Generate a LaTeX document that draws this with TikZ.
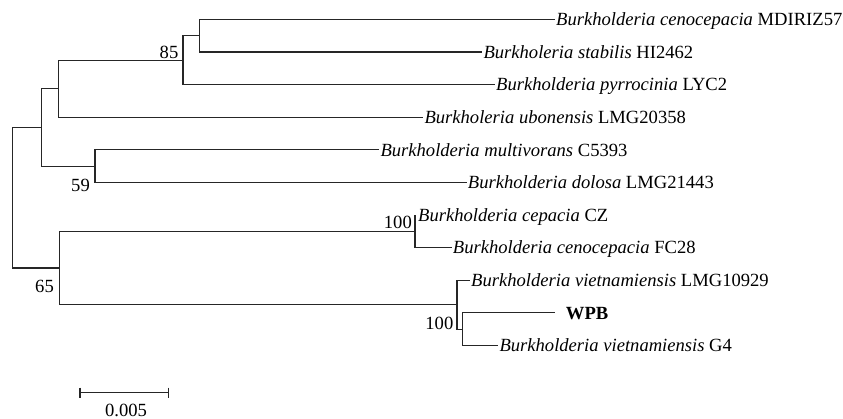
\documentclass[tikz,border=0pt]{standalone}
\usepackage{fontspec}
\setmainfont{Liberation Serif}
\begin{document}
\begin{tikzpicture}[x=1pt,y=-1pt,
  br/.style={line width=1.2pt, draw=black!85},
  leaf/.style={anchor=base west, inner sep=0pt, yshift=-6.3pt, font=\fontsize{18.6}{22}\selectfont},
  bs/.style={anchor=base east, inner sep=0pt, font=\fontsize{18.6}{22}\selectfont}]
\useasboundingbox (0,0) rectangle (843,419);
% leaf tips
\coordinate (t1) at (555,19.5);
\coordinate (t2) at (482.3,52.1);
\coordinate (t3) at (495,84.7);
\coordinate (t4) at (423.3,117.3);
\coordinate (t5) at (379.3,149.9);
\coordinate (t6) at (466.7,182.5);
\coordinate (t7) at (415,215.1);
\coordinate (t8) at (451.7,247.7);
\coordinate (t9) at (470,280.3);
\coordinate (t10) at (555,312.9);
\coordinate (t11) at (498.3,345.5);
% internal nodes
\coordinate (n1) at (199.7,35.8);
\coordinate (n85) at (183,60.25);
\coordinate (n2) at (58.5,88.8);
\coordinate (n59) at (95,166.2);
\coordinate (n3) at (41.7,127.5);
\coordinate (nCZ) at (415,231.4);
\coordinate (nWG) at (462.7,329.2);
\coordinate (nV) at (457,304.75);
\coordinate (n65) at (59.7,268);
\coordinate (root) at (12.3,197.75);
% branches
\draw[br] (n1) |- (t1);
\draw[br] (n1) |- (t2);
\draw[br] (n85) |- (n1);
\draw[br] (n85) |- (t3);
\draw[br] (n2) |- (n85);
\draw[br] (n2) |- (t4);
\draw[br] (n59) |- (t5);
\draw[br] (n59) |- (t6);
\draw[br] (n3) |- (n2);
\draw[br] (n3) |- (n59);
\draw[br] (nCZ) |- (t7);
\draw[br] (nCZ) |- (t8);
\draw[br] (nWG) |- (t10);
\draw[br] (nWG) |- (t11);
\draw[br] (nV) |- (t9);
\draw[br] (nV) |- (nWG);
\draw[br] (n65) |- (nCZ);
\draw[br] (n65) |- (nV);
\draw[br] (root) |- (n3);
\draw[br] (root) |- (n65);
% leaf labels
\node[leaf, xshift=1pt] (l1) at (t1) {\textit{Burkholderia cenocepacia} MDIRIZ57};
\node[leaf, xshift=1pt] (l2) at (t2) {\textit{Burkholeria stabilis} HI2462};
\node[leaf, xshift=1pt] (l3) at (t3) {\textit{Burkholderia pyrrocinia} LYC2};
\node[leaf, xshift=1pt] (l4) at (t4) {\textit{Burkholeria ubonensis} LMG20358};
\node[leaf, xshift=1pt] (l5) at (t5) {\textit{Burkholderia multivorans} C5393};
\node[leaf, xshift=1pt] (l6) at (t6) {\textit{Burkholderia dolosa} LMG21443};
\node[leaf, xshift=3pt] (l7) at (t7) {\textit{Burkholderia cepacia} CZ};
\node[leaf, xshift=1pt] (l8) at (t8) {\textit{Burkholderia cenocepacia} FC28};
\node[leaf, xshift=1pt] (l9) at (t9) {\textit{Burkholderia vietnamiensis} LMG10929};
\node[leaf, xshift=10.7pt] (l10) at (t10) {\textbf{WPB}};
\node[leaf, xshift=1pt] (l11) at (t11) {\textit{Burkholderia vietnamiensis} G4};
% bootstrap values
\node[bs] (b85) at (178.5,58.3) {85};
\node[bs] (b59) at (90,191.5) {59};
\node[bs] (b65) at (54,293) {65};
\node[bs] (b100a) at (412,229) {100};
\node[bs] (b100b) at (453.5,329.5) {100};
% scale bar
\coordinate (s1) at (80,392.7);
\coordinate (s2) at (168.3,392.7);
\draw[br] (s1) -- (s2);
\draw[br] ([yshift=5pt]s1) -- ([yshift=-5pt]s1);
\draw[br] ([yshift=5pt]s2) -- ([yshift=-5pt]s2);
\node[anchor=base, inner sep=0pt, font=\fontsize{18.6}{22}\selectfont] (scl) at (126,416) {0.005};
\end{tikzpicture}
\end{document}
